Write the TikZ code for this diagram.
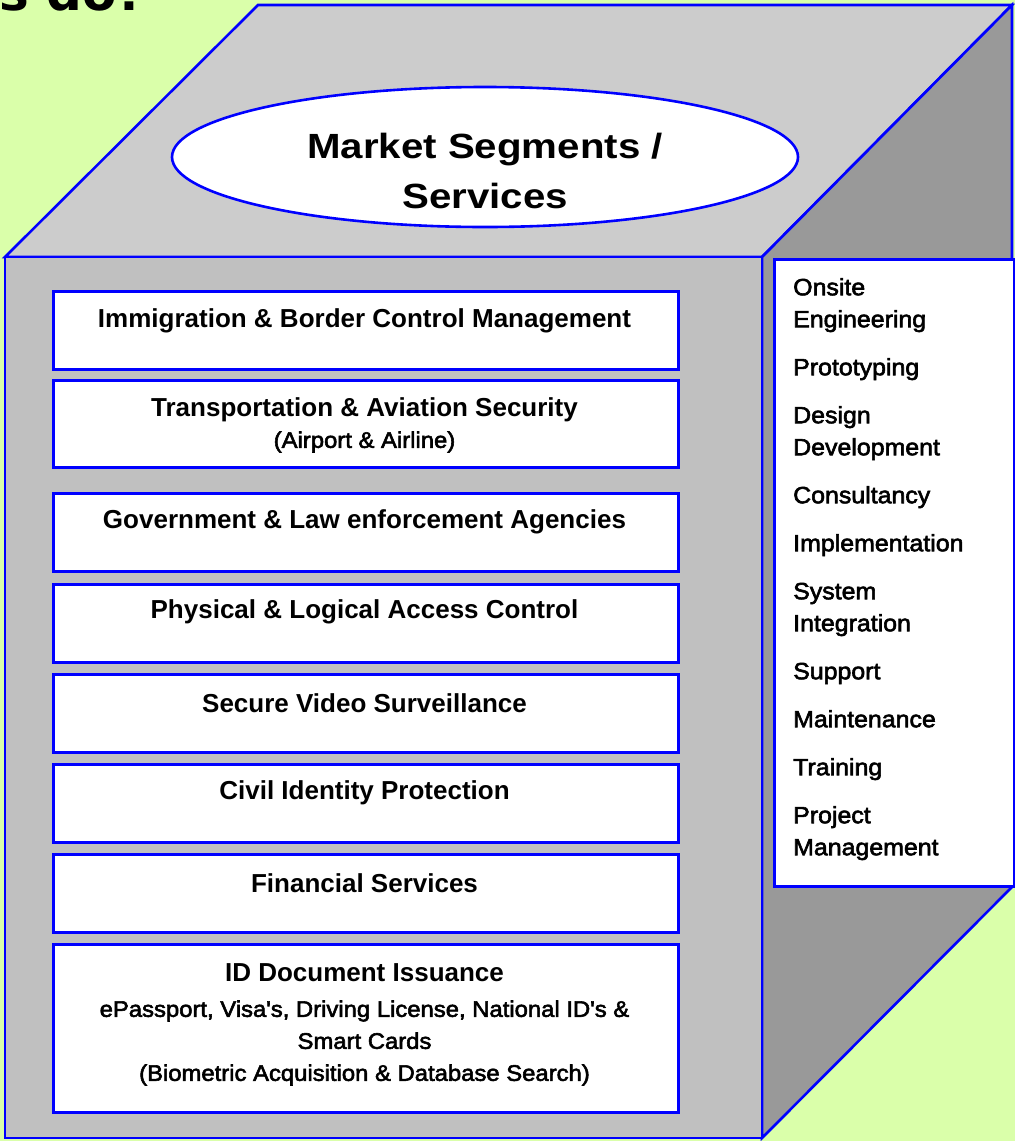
\documentclass[tikz,border=0pt]{standalone}
\usepackage{fontspec}
\setmainfont{Liberation Sans}
\newfontfamily\medfont[FakeBold=2.5,FakeStretch=1.06]{Liberation Sans}
\newfontfamily\widebold[FakeStretch=1.15]{Liberation Sans}
\newfontfamily\heavy{DejaVu Sans}
\usetikzlibrary{shapes.geometric}
\definecolor{bg}{RGB}{218,255,170}
\definecolor{topgray}{RGB}{204,204,204}
\definecolor{frontgray}{RGB}{192,192,192}
\definecolor{sidegray}{RGB}{153,153,153}
\definecolor{edgeblue}{RGB}{0,0,255}
\begin{document}
\begin{tikzpicture}[x=1pt,y=-1pt,
  edge/.style={draw=edgeblue, line width=2.6pt, line join=miter},
  segbox/.style={edge, fill=white, rectangle, minimum width=625pt, minimum height=78pt, anchor=north west, inner sep=0pt},
  segtitle/.style={font=\bfseries\fontsize{26}{30}\selectfont, anchor=center, inner sep=0pt, align=center},
  segsub/.style={font=\medfont\fontsize{22.5}{32}\selectfont, anchor=center, inner sep=0pt, align=center}]
\useasboundingbox (0,0) rectangle (1015,1141);
\clip (0,0) rectangle (1015,1141);
\fill[bg] (0,0) rectangle (1015,1141);
\node[anchor=base east, font=\heavy\bfseries\fontsize{50}{50}\selectfont, inner sep=0pt] (heading) at (146,10) {s do?};
% cube
\coordinate (A) at (5,257);
\coordinate (B) at (762,257);
\coordinate (C) at (762,1138);
\coordinate (D) at (5,1138);
\coordinate (E) at (258,5);
\coordinate (F) at (1012,5);
\coordinate (G) at (1012,887);
\filldraw[fill=topgray, edge] (A) -- (E) -- (F) -- (B) -- cycle;
\filldraw[fill=sidegray, edge] (B) -- (F) -- (G) -- (C) -- cycle;
\filldraw[fill=frontgray, edge] (A) -- (B) -- (C) -- (D) -- cycle;
% ellipse
\node[ellipse, edge, fill=white, minimum width=626pt, minimum height=140pt, inner sep=0pt] (ell) at (485,157) {};
\node[font=\widebold\bfseries\fontsize{35}{50}\selectfont, align=center, inner sep=0pt] (elltext) at (485,171) {Market Segments /\\Services};
% segment boxes
\node[segbox] (b1) at (52,290) {};
\node[segtitle] (t1) at (364.5,321) {Immigration \& Border Control Management};
\node[segbox, minimum height=87pt] (b2) at (52,379) {};
\node[segtitle] (t2) at (364.5,410) {Transportation \& Aviation Security};
\node[segsub] (s2) at (364.5,442) {(Airport \& Airline)};
\node[segbox] (b3) at (52,492) {};
\node[segtitle] (t3) at (364.5,522) {Government \& Law enforcement Agencies};
\node[segbox] (b4) at (52,583) {};
\node[segtitle] (t4) at (364.5,612) {Physical \& Logical Access Control};
\node[segbox] (b5) at (52,673) {};
\node[segtitle] (t5) at (364.5,703) {Secure Video Surveillance};
\node[segbox] (b6) at (52,763) {};
\node[segtitle] (t6) at (364.5,793) {Civil Identity Protection};
\node[segbox] (b7) at (52,853) {};
\node[segtitle] (t7) at (364.5,883) {Financial Services};
\node[segbox, minimum height=168pt] (b8) at (52,943) {};
\node[segtitle] (t8) at (364.5,973) {ID Document Issuance};
\node[segsub] (s8) at (364.5,1043) {ePassport, Visa's, Driving License, National ID's \&\\Smart Cards\\(Biometric Acquisition \& Database Search)};
% services box
\node[edge, fill=white, rectangle, minimum width=240pt, minimum height=627pt, anchor=north west, inner sep=0pt] (svc) at (773,258) {};
\node[anchor=north west, inner sep=0pt, align=left, font=\medfont\fontsize{23.5}{32}\selectfont] (svctext) at (793,278) {Onsite\\Engineering\\[16pt]Prototyping\\[16pt]Design\\Development\\[16pt]Consultancy\\[16pt]Implementation\\[16pt]System\\Integration\\[16pt]Support\\[16pt]Maintenance\\[16pt]Training\\[16pt]Project\\Management};
\end{tikzpicture}
\end{document}
